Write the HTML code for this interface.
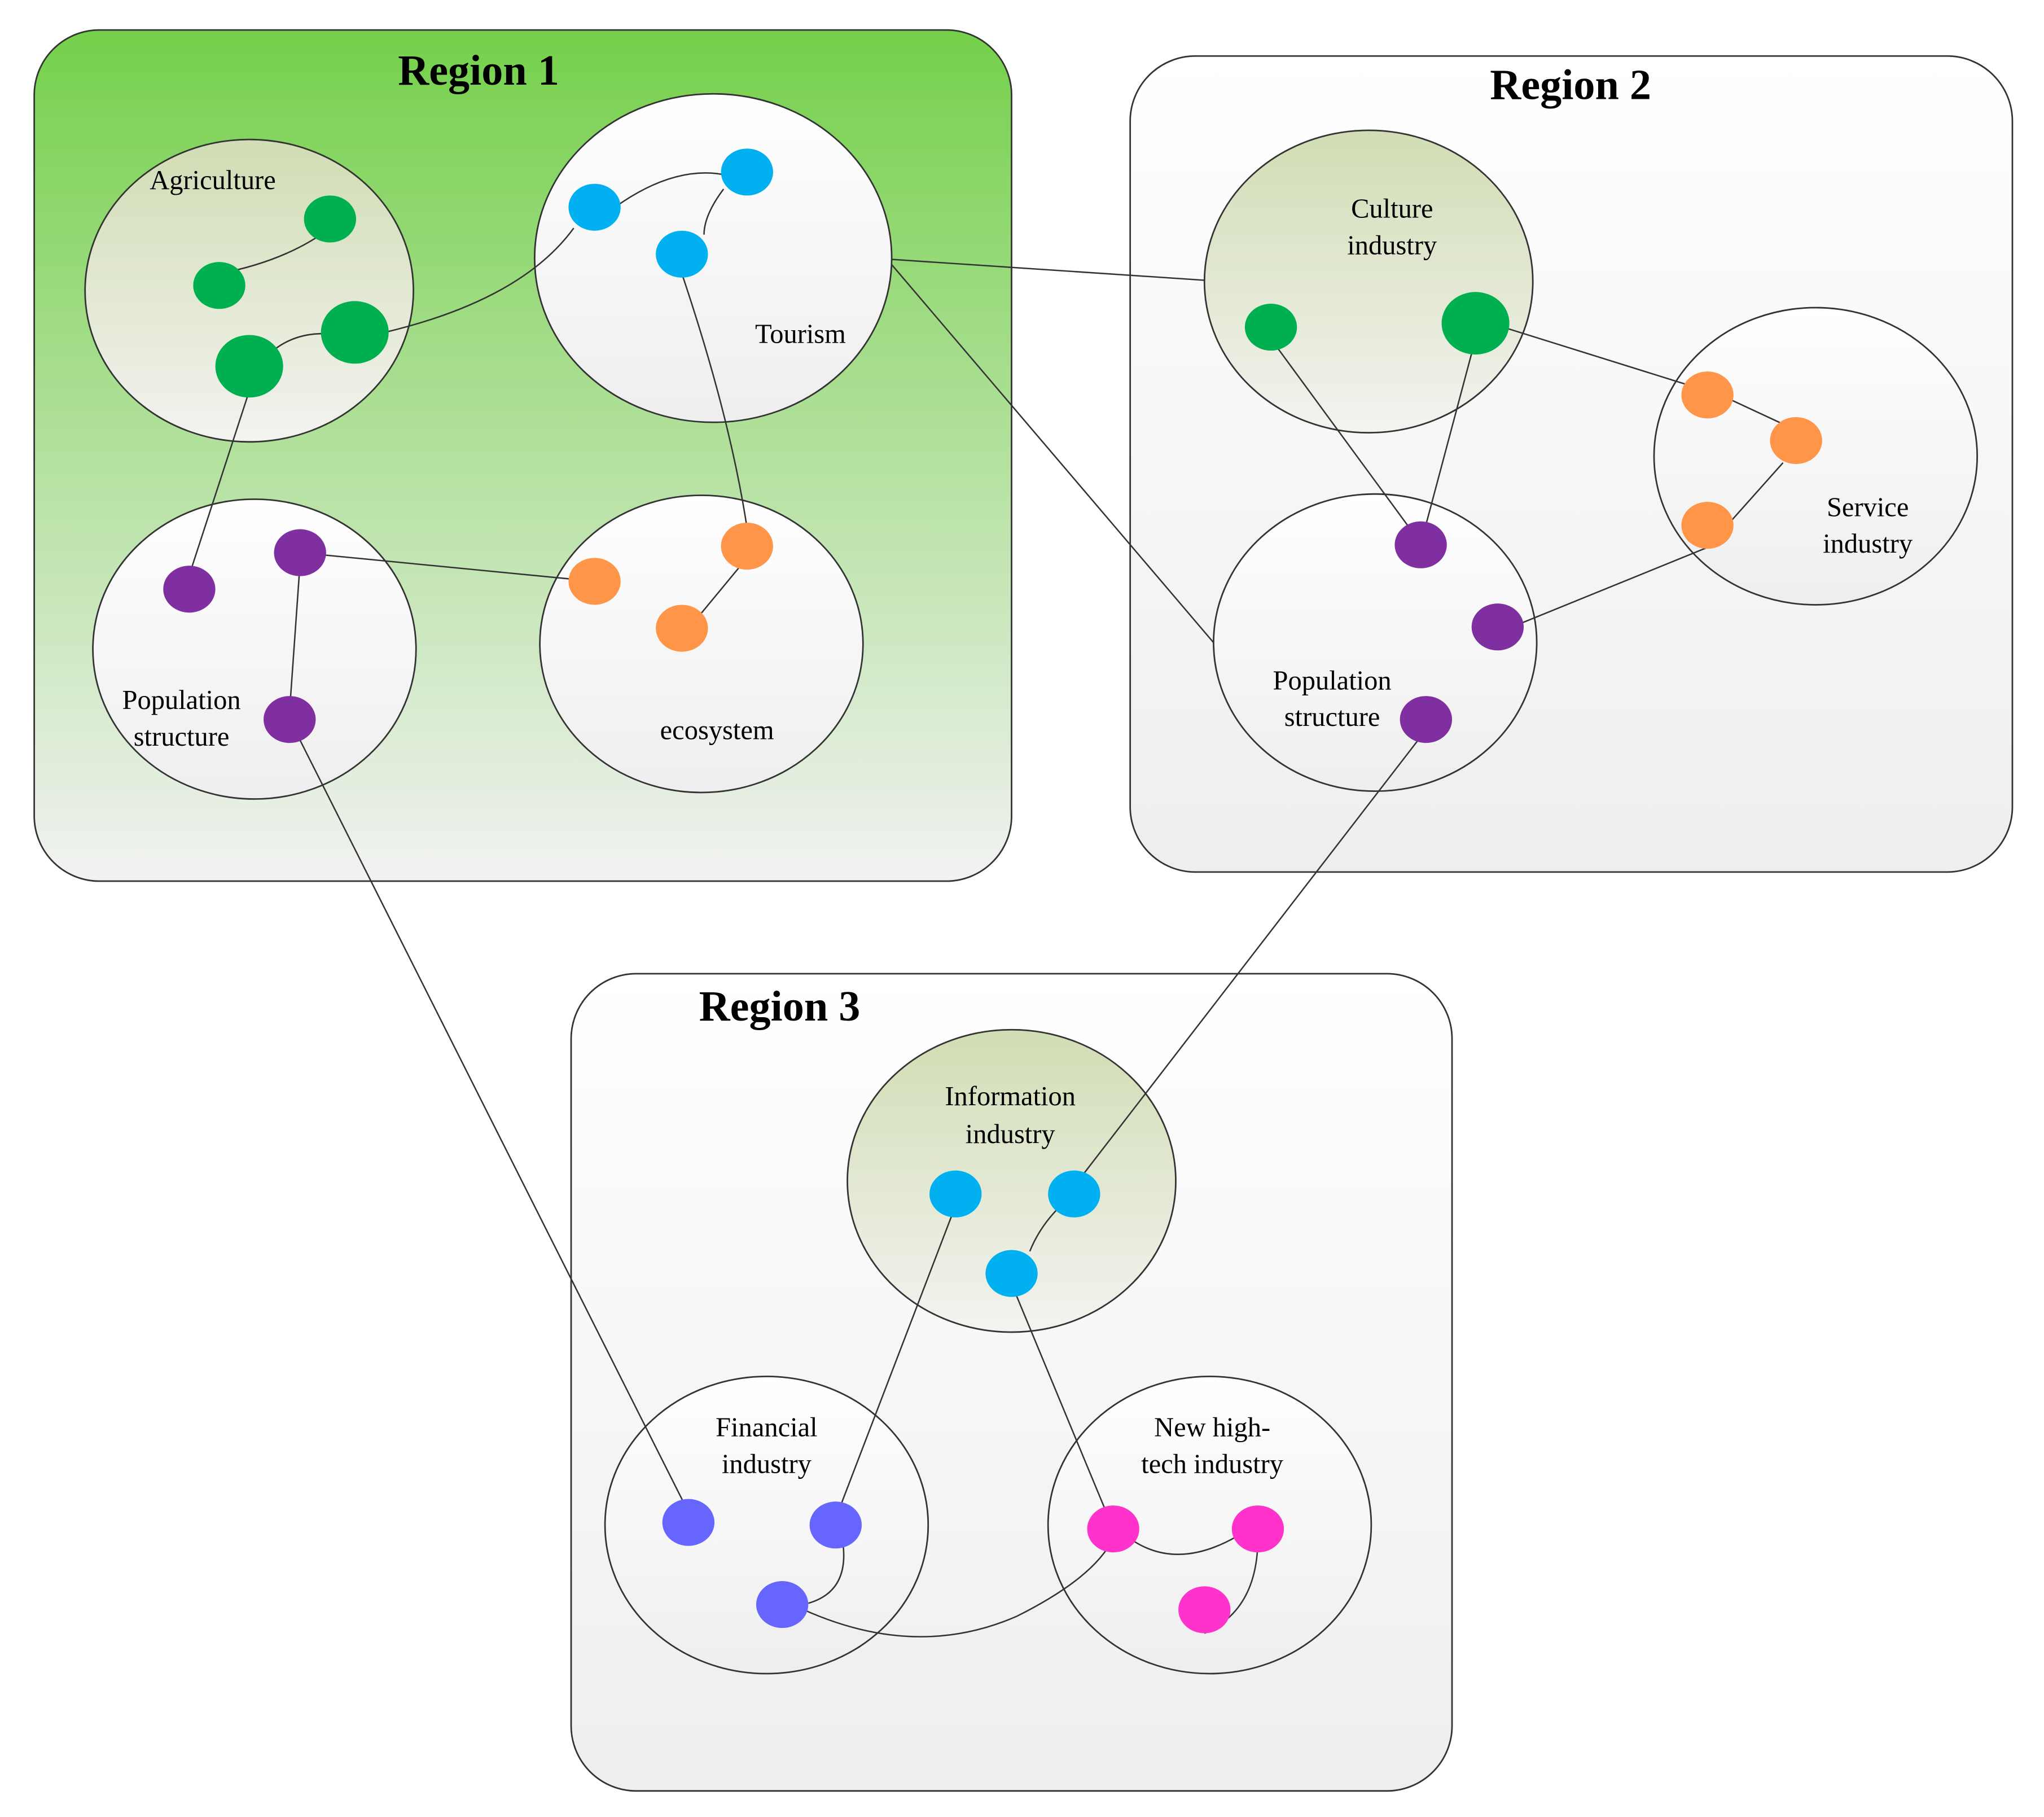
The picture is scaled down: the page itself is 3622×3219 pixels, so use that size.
<!DOCTYPE html>
<html><head><meta charset="utf-8"><style>html,body{margin:0;padding:0;background:#fff}svg{display:block}</style></head><body>
<svg width="3622" height="3219" viewBox="0 0 1568 1394" xmlns="http://www.w3.org/2000/svg" font-family="Liberation Serif, serif">
<defs>
<linearGradient id="g1" x1="0" y1="0" x2="0" y2="1"><stop offset="0" stop-color="#74d04a"/><stop offset="1" stop-color="#f2f2f2"/></linearGradient>
<linearGradient id="gw" x1="0" y1="0" x2="0" y2="1"><stop offset="0" stop-color="#ffffff"/><stop offset="1" stop-color="#eeeeee"/></linearGradient>
<linearGradient id="go" x1="0" y1="0" x2="0" y2="1"><stop offset="0" stop-color="#d1ddb4"/><stop offset="1" stop-color="#f3f3f0"/></linearGradient>
</defs>
<g stroke="#333" stroke-width="1.2">
<rect x="26" y="23" width="750" height="653" rx="50" fill="url(#g1)"/>
<rect x="867" y="43" width="677" height="626" rx="50" fill="url(#gw)"/>
<rect x="438" y="747" width="676" height="627" rx="50" fill="url(#gw)"/>
<ellipse cx="191" cy="223" rx="126" ry="116" fill="url(#go)"/>
<ellipse cx="547" cy="198" rx="137" ry="126" fill="url(#gw)"/>
<ellipse cx="195" cy="498" rx="124" ry="115" fill="url(#gw)"/>
<ellipse cx="538" cy="494" rx="124" ry="114" fill="url(#gw)"/>
<ellipse cx="1050" cy="216" rx="126" ry="116" fill="url(#go)"/>
<ellipse cx="1393" cy="350" rx="124" ry="114" fill="url(#gw)"/>
<ellipse cx="1055" cy="493" rx="124" ry="114" fill="url(#gw)"/>
<ellipse cx="776" cy="906" rx="126" ry="116" fill="url(#go)"/>
<ellipse cx="588" cy="1170" rx="124" ry="114" fill="url(#gw)"/>
<ellipse cx="928" cy="1170" rx="124" ry="114" fill="url(#gw)"/>
</g>
<g stroke="#333" stroke-width="1.1" fill="none">
<path d="M168 210 Q220 200 253 175"/>
<path d="M195 285 Q215 255 250 256"/>
<path d="M295 255 Q400 230 440 175"/>
<path d="M473 158 Q520 125 560 135"/>
<path d="M555 145 Q540 165 540 180"/>
<path d="M523 210 Q560 320 573 405"/>
<path d="M191 300 L147 435"/>
<path d="M230 424 L456 446"/>
<path d="M230 432 L222 545"/>
<path d="M222 552 L528 1160"/>
<path d="M573 428 L530 480"/>
<path d="M684 199 L924 215"/>
<path d="M684 203 L931 493"/>
<path d="M975 260 L1085 410"/>
<path d="M1132 260 L1092 410"/>
<path d="M1150 250 L1310 300"/>
<path d="M1320 303 L1378 330"/>
<path d="M1368 355 L1310 420 L1160 481"/>
<path d="M1094 560 L824 910"/>
<path d="M824 916 Q800 935 790 960"/>
<path d="M733 925 L641 1165"/>
<path d="M776 985 L854 1173"/>
<path d="M645 1175 Q655 1220 620 1230"/>
<path d="M610 1232 Q700 1275 780 1240 Q840 1210 854 1180"/>
<path d="M860 1175 Q900 1210 955 1175"/>
<path d="M965 1180 Q965 1235 924 1253"/>
</g>
<g>
<ellipse cx="253" cy="168" rx="20" ry="18" fill="#00b050"/>
<ellipse cx="168" cy="219" rx="20" ry="18" fill="#00b050"/>
<ellipse cx="272" cy="255" rx="26" ry="24" fill="#00b050"/>
<ellipse cx="191" cy="281" rx="26" ry="24" fill="#00b050"/>
<ellipse cx="456" cy="159" rx="20" ry="18" fill="#00b0f0"/>
<ellipse cx="573" cy="132" rx="20" ry="18" fill="#00b0f0"/>
<ellipse cx="523" cy="195" rx="20" ry="18" fill="#00b0f0"/>
<ellipse cx="145" cy="452" rx="20" ry="18" fill="#7f2fa0"/>
<ellipse cx="230" cy="424" rx="20" ry="18" fill="#7f2fa0"/>
<ellipse cx="222" cy="552" rx="20" ry="18" fill="#7f2fa0"/>
<ellipse cx="456" cy="446" rx="20" ry="18" fill="#ff9548"/>
<ellipse cx="573" cy="419" rx="20" ry="18" fill="#ff9548"/>
<ellipse cx="523" cy="482" rx="20" ry="18" fill="#ff9548"/>
<ellipse cx="975" cy="251" rx="20" ry="18" fill="#00b050"/>
<ellipse cx="1132" cy="248" rx="26" ry="24" fill="#00b050"/>
<ellipse cx="1310" cy="303" rx="20" ry="18" fill="#ff9548"/>
<ellipse cx="1378" cy="338" rx="20" ry="18" fill="#ff9548"/>
<ellipse cx="1310" cy="403" rx="20" ry="18" fill="#ff9548"/>
<ellipse cx="1090" cy="418" rx="20" ry="18" fill="#7f2fa0"/>
<ellipse cx="1149" cy="481" rx="20" ry="18" fill="#7f2fa0"/>
<ellipse cx="1094" cy="552" rx="20" ry="18" fill="#7f2fa0"/>
<ellipse cx="733" cy="916" rx="20" ry="18" fill="#00b0f0"/>
<ellipse cx="824" cy="916" rx="20" ry="18" fill="#00b0f0"/>
<ellipse cx="776" cy="977" rx="20" ry="18" fill="#00b0f0"/>
<ellipse cx="528" cy="1168" rx="20" ry="18" fill="#6666ff"/>
<ellipse cx="641" cy="1170" rx="20" ry="18" fill="#6666ff"/>
<ellipse cx="600" cy="1231" rx="20" ry="18" fill="#6666ff"/>
<ellipse cx="854" cy="1173" rx="20" ry="18" fill="#ff33cc"/>
<ellipse cx="965" cy="1173" rx="20" ry="18" fill="#ff33cc"/>
<ellipse cx="924" cy="1235" rx="20" ry="18" fill="#ff33cc"/>
</g>
<g font-weight="bold" font-size="33" text-anchor="middle" fill="#000">
<text x="367" y="65">Region 1</text>
<text x="1205" y="76">Region 2</text>
<text x="598" y="783">Region 3</text>
</g>
<g font-size="21" text-anchor="middle" fill="#000">
<text x="163" y="145">Agriculture</text>
<text x="614" y="263">Tourism</text>
<text x="139" y="544">Population</text><text x="139" y="572">structure</text>
<text x="550" y="567">ecosystem</text>
<text x="1068" y="167">Culture</text><text x="1068" y="195">industry</text>
<text x="1433" y="396">Service</text><text x="1433" y="424">industry</text>
<text x="1022" y="529">Population</text><text x="1022" y="557">structure</text>
<text x="775" y="848">Information</text><text x="775" y="877">industry</text>
<text x="588" y="1102">Financial</text><text x="588" y="1130">industry</text>
<text x="930" y="1102">New high-</text><text x="930" y="1130">tech industry</text>
</g>
</svg>
</body></html>
